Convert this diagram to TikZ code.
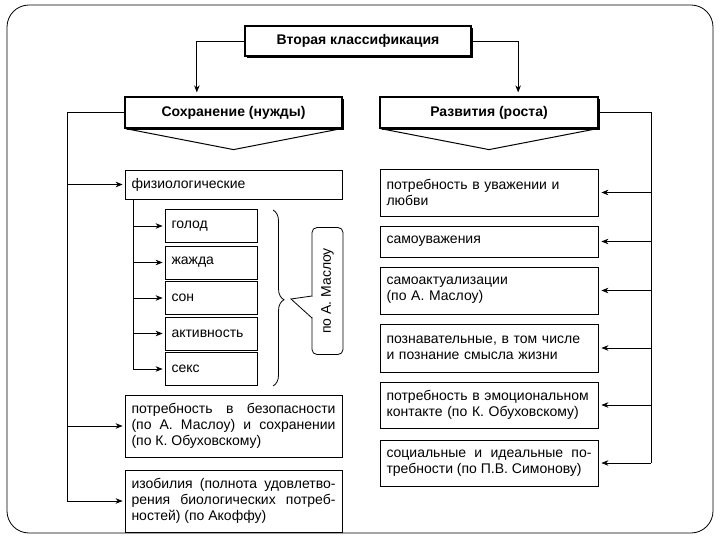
\documentclass[tikz,border=0pt]{standalone}
\usepackage{fontspec}
\setmainfont{Liberation Sans}
\usetikzlibrary{arrows.meta,calc,decorations.pathreplacing,shadows}
\begin{document}
\begin{tikzpicture}[x=1pt,y=-1pt,
  every node/.style={inner sep=0pt,font=\fontsize{14}{16}\selectfont},
  head/.style={draw,line width=1.2pt,fill=white,font=\bfseries\fontsize{14}{16}\selectfont,
     drop shadow={shadow xshift=1.6pt,shadow yshift=-1.6pt,fill=black,opacity=1}},
  item/.style={draw,line width=0.8pt,fill=white,align=left,inner xsep=6.5pt},
  just/.style={align=justify},
  conn/.style={line width=0.7pt},
  arr/.style={line width=0.7pt,-{Stealth[length=7pt,width=5.5pt]},shorten >=2pt}]
\useasboundingbox (0,0) rectangle (720,540);
\draw[line width=0.8pt,rounded corners=22pt] (7,5) rectangle (713,533);

% headers
\node[head,minimum width=226,minimum height=30] (top) at (358,41) {Вторая классификация};
\node[head,minimum width=217,minimum height=31] (sohr) at (233.5,112.5) {Сохранение (нужды)};
\node[head,minimum width=218,minimum height=31] (razv) at (489,112.5) {Развития (роста)};
\draw[line width=1pt] ([xshift=1pt]sohr.south west) -- ([yshift=-21pt]sohr.south) -- ([xshift=-1pt]sohr.south east);
\draw[line width=1pt] ([xshift=1pt]razv.south west) -- ([yshift=-21pt]razv.south) -- ([xshift=-1pt]razv.south east);
\draw[arr,shorten >=4pt] (top.west) -| ($(sohr.north west)!0.332!(sohr.north east)$);
\draw[arr,shorten >=4pt] (top.east) -| ($(razv.north west)!0.633!(razv.north east)$);

% left column
\node[item,minimum width=217,minimum height=29,text width=204] (fiz) at (233.5,184.5) {физиологические};
\node[item,minimum width=92,minimum height=33,text width=79] (golod) at (211,226) {голод};
\node[item,minimum width=92,minimum height=33,text width=79] (zhazhda) at (211,262.5) {жажда};
\node[item,minimum width=92,minimum height=33,text width=79] (son) at (211,298) {сон};
\node[item,minimum width=92,minimum height=33,text width=79] (akt) at (211,333.5) {активность};
\node[item,minimum width=92,minimum height=33,text width=79] (seks) at (211,369) {секс};
\node[item,just,minimum width=217,minimum height=62,text width=204] (bez) at (233.5,426) {потребность в безопасности\linebreak (по А. Маслоу) и сохранении\linebreak (по К. Обуховскому)};
\node[item,just,minimum width=217,minimum height=62,text width=204] (izob) at (233.5,501) {изобилия (полнота удовлетво-\linebreak рения биологических потреб-\linebreak ностей) (по Акоффу)};

\coordinate (lt) at (67,112.5);
\draw[conn] (sohr.west) -- (lt);
\draw[arr] (lt) |- (fiz.west);
\draw[arr] (lt) |- (bez.west);
\draw[arr] (lt) |- (izob.west);

\coordinate (st) at ($(fiz.south west)+(9,0)$);
\foreach \b in {golod,zhazhda,son,akt,seks}
  \draw[arr] (st) |- (\b.west);

% brace and callout
\draw[line width=0.8pt,decorate,decoration={brace,amplitude=11pt,aspect=0.51}] (273,210) -- (273,386);
\coordinate (btip) at (291,299);
\node[draw,line width=0.8pt,rounded corners=5pt,rotate=90,minimum width=127,minimum height=31] (masl) at (327.5,291) {по А. Маслоу};
\draw[line width=0.8pt,fill=white] ($(masl.north)+(0.4,5)$) -- (btip) -- ($(masl.north)+(0.4,27)$);
\draw[white,line width=1.2pt] ($(masl.north)+(1.2,5.8)$) -- ($(masl.north)+(1.2,26)$);

% right column
\node[item,minimum width=218,minimum height=47,text width=205] (uv) at (489,192.5) {потребность в уважении и\\любви};
\node[item,minimum width=218,minimum height=31,text width=205] (samouv) at (489,241.5) {самоуважения};
\node[item,minimum width=218,minimum height=47,text width=205] (samoakt) at (489,290.5) {самоактуализации\\(по А. Маслоу)};
\node[item,minimum width=218,minimum height=48,text width=205] (pozn) at (489,348) {познавательные, в том числе\\и познание смысла жизни};
\node[item,minimum width=218,minimum height=46,text width=205] (emo) at (489,405) {потребность в эмоциональном\\контакте (по К. Обуховскому)};
\node[item,just,minimum width=218,minimum height=46,text width=205] (soc) at (489,463) {социальные и идеальные по-\linebreak требности (по П.В. Симонову)};

\coordinate (rt) at (651,112.5);
\draw[conn] (razv.east) -- (rt);
\draw[conn] (rt) |- (soc.east -| rt);
\foreach \b in {uv,samouv,samoakt,pozn,emo,soc}
  \draw[arr,shorten >=3pt] (\b.east -| rt) -- (\b.east);
\end{tikzpicture}
\end{document}
